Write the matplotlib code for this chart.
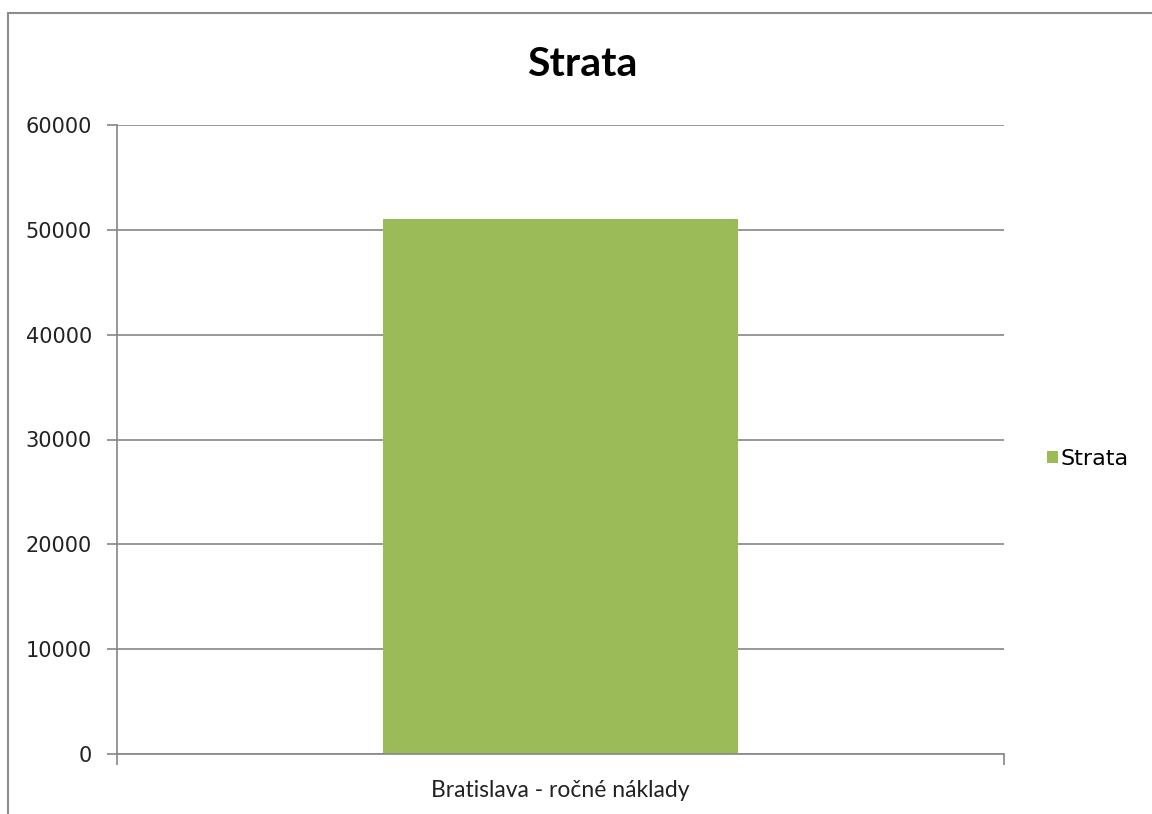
import matplotlib.pyplot as plt
from matplotlib.patches import Rectangle

categories = ['Bratislava - ročné náklady']
values = [51000]
series_name = 'Strata'
yticks = [0, 10000, 20000, 30000, 40000, 50000, 60000]

plt.rcParams['font.family'] = ['DejaVu Sans']

fig = plt.figure(figsize=(11.52, 8.14), dpi=100)
ax = fig.add_axes([117 / 1152, 1 - 754 / 814, 887 / 1152, 629 / 814])

# outer chart frame (runs off the picture at right and bottom)
fig.patches.append(Rectangle((8 / 1152, -0.05), 1.2, 1 - 13 / 814 + 0.05,
                             transform=fig.transFigure, fill=False,
                             edgecolor='#8c8c8c', linewidth=1.5))

ax.bar([0], values, width=0.4, color='#9bbb59', label=series_name, zorder=2)

ax.set_xlim(-0.5, 0.5)
ax.set_ylim(0, 60000)
ax.set_yticks(yticks)
ax.set_yticklabels([str(v) for v in yticks], fontsize=15, color='#222222')
ax.yaxis.grid(True, color='#868686', linewidth=1.2, zorder=0)
ax.tick_params(axis='y', length=7, color='#868686', width=1.2, pad=11)

ax.set_xticks([-0.5, 0.5])
ax.set_xticklabels(['', ''])
ax.tick_params(axis='x', length=8, color='#868686', width=1.2, direction='out')
ax.text(0, 1 - 797 / 814, categories[0],
        transform=ax.get_xaxis_transform().__class__(ax.transData, fig.transFigure),
        ha='center', va='baseline', fontsize=16.5, color='#222222',
        family=['Lato', 'DejaVu Sans'])

for side in ['top', 'right']:
    ax.spines[side].set_visible(False)
for side in ['left', 'bottom']:
    ax.spines[side].set_color('#868686')
    ax.spines[side].set_linewidth(1.2)

fig.text(582 / 1152, 1 - 76 / 814, 'Strata', ha='center', va='baseline',
         fontsize=29.5, fontweight='bold', color='#000000', family=['Lato'])

fig.legend(loc='center left', bbox_to_anchor=(1047 / 1152, 1 - 459 / 814),
           frameon=False, fontsize=16, handlelength=0.5, handleheight=0.5,
           handletextpad=0.1, borderpad=0, borderaxespad=0)

fig.savefig('out.png', dpi=100)
